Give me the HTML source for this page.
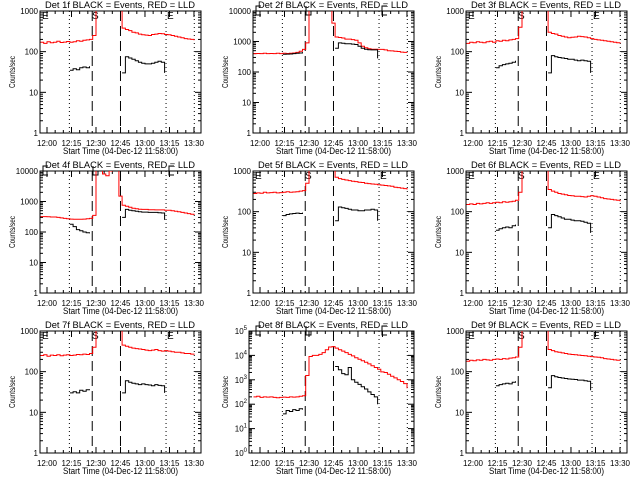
<!DOCTYPE html>
<html><head><meta charset="utf-8"><style>
html,body{margin:0;padding:0;background:#fff;}
svg{display:block;font-family:"Liberation Sans",sans-serif;}
</style></head><body>
<svg id="chart" width="640" height="480" viewBox="0 0 640 480"></svg>
<script>
// ---- data ----
const redTimes = []; for (let t = -4; t <= 90; t += 2) redTimes.push(t); // minutes after 12:00
const blackTimes1 = [14,16,18,20,22,24,26];
const blackTimes2 = [46,48,50,52,54,56,58,60,62,64,66,68,70,72];
const xTickLabels = ['12:00','12:15','12:30','12:45','13:00','13:15','13:30'];
const xTickMinutes = [0,15,30,45,60,75,90];
const panelTitles = ['Det 1f','Det 2f','Det 3f','Det 4f','Det 5f','Det 6f','Det 7f','Det 8f','Det 9f'];
const panelMaxDecade = [3,4,3,4,3,3,3,5,3];
const F=3000, G=15000;
const red1 = [170,160,175,165,170,180,168,172,178,170,175,185,180,190,195,200,250,F,F,F,F,F,F,F,F,380,350,330,300,290,270,260,255,250,265,270,280,275,265,260,250,240,230,220,210,205,200,190];
const red2 = [400,405,400,410,400,405,400,410,400,410,405,410,420,440,480,550,900,G,G,G,G,G,G,G,4000,1400,1350,1300,1200,1200,1150,1100,900,700,620,580,560,560,550,550,530,500,490,480,470,450,440,430];
const red3 = [160,170,165,175,170,165,175,180,170,185,180,190,185,195,200,210,400,F,F,F,F,F,F,F,F,300,280,270,250,240,230,220,225,230,240,235,230,220,210,200,195,190,185,180,175,170,165,160];
const red4 = [320,320,315,310,310,300,290,280,270,265,260,260,260,265,270,280,350,12000,12000,8000,7000,10000,12000,12000,1500,750,700,650,600,580,560,550,550,540,540,530,530,530,520,520,500,480,460,440,420,400,380,360];
const red5 = [280,290,285,300,290,295,300,290,295,300,310,300,305,310,320,330,500,F,F,F,F,F,F,F,F,700,650,620,600,580,560,550,530,520,500,490,480,470,460,450,440,430,420,400,390,380,370,350];
const red6 = [150,155,150,160,155,160,165,160,165,170,165,175,170,175,180,190,300,F,F,F,F,F,F,F,F,350,320,300,280,270,260,250,245,240,240,235,230,240,245,240,230,220,210,205,200,195,190,180];
const red7 = [250,260,240,255,250,260,245,255,260,250,255,265,260,270,265,280,400,F,F,F,F,F,F,F,F,450,420,400,380,370,360,350,340,330,340,350,330,320,330,320,310,300,300,290,280,280,270,260];
const red8 = [200,210,190,200,195,200,190,185,190,195,190,200,195,200,210,220,1500,9000,10000,10000,11000,13000,17000,22000,23000,20000,17000,15000,13000,11000,9500,8000,7000,6000,5200,4500,3800,3200,2700,2100,2000,1700,1400,1200,1000,850,700,450];
const red9 = [180,190,185,195,190,200,195,190,200,205,200,210,205,215,220,230,400,F,F,F,F,F,F,F,F,350,330,310,300,290,280,270,265,260,255,250,245,240,235,230,225,220,210,205,200,195,190,185];
const blackA1 = [35,38,36,40,42,40,44];           const blackB1 = [30,75,70,65,60,55,52,50,50,52,55,58,55,30];
const blackA2 = [380,385,390,400,410,420,450];    const blackB2 = [600,900,880,850,850,820,800,700,600,560,540,530,530,280];
const blackA3 = [40,45,48,50,52,55,60];           const blackB3 = [30,80,75,72,70,68,65,65,62,60,62,60,58,30];
const blackA4 = [180,150,120,110,100,95,90];      const blackB4 = [300,550,520,500,480,460,450,450,440,440,440,430,420,250];
const blackA5 = [80,85,88,90,92,90,95];           const blackB5 = [60,130,125,120,115,110,110,105,105,110,110,115,110,60];
const blackA6 = [35,38,40,42,40,45,48];           const blackB6 = [40,85,80,75,70,65,65,62,60,60,58,55,52,30];
const blackA7 = [30,32,30,35,33,36,35];           const blackB7 = [30,60,55,52,50,48,50,48,47,45,48,46,45,30];
const blackA8 = [40,55,50,60,55,65,60];           const blackB8 = [3500,2600,1800,1600,3200,1000,800,650,520,420,320,250,200,100];
const blackA9 = [45,48,50,52,50,55,58];           const blackB9 = [40,80,75,72,70,68,66,65,64,62,62,60,58,35];
const redSeries = [red1,red2,red3,red4,red5,red6,red7,red8,red9];
const blackSeg1 = [blackA1,blackA2,blackA3,blackA4,blackA5,blackA6,blackA7,blackA8,blackA9];
const blackSeg2 = [blackB1,blackB2,blackB3,blackB4,blackB5,blackB6,blackB7,blackB8,blackB9];
const dottedMinutes = [13.7,72.9,90.2];
const dashedMinutes = [27.7,45];

// ---- drawing ----
const NS='http://www.w3.org/2000/svg';
const svg=document.getElementById('chart');
function mk(tag,attrs,parent){const e=document.createElementNS(NS,tag);for(const k in attrs)e.setAttribute(k,attrs[k]);(parent||svg).appendChild(e);return e;}
const TOP=11,BOT=133,R=201;
function xOf(t){return 47+1.633*t;}
for(let p=0;p<9;p++){
  const ox=(p%3)*213, oy=Math.floor(p/3)*160;
  const L=(p===7)?36:40;
  const md=panelMaxDecade[p];
  const yOf=v=>BOT-(Math.log10(v)/md)*(BOT-TOP);
  const g=mk('g',{transform:`translate(${ox},${oy})`});
  
  
  const cid='clip'+p;
  const cp=mk('clipPath',{id:cid},g); mk('rect',{x:L,y:TOP,width:R-L,height:BOT-TOP},cp);
  const ti=mk('text',{x:45,y:8,'font-size':9,textLength:150,lengthAdjust:'spacingAndGlyphs'},g);
  ti.textContent=panelTitles[p]+' BLACK = Events, RED = LLD';
  
  
  const yt=mk('text',{x:0,y:0,'font-size':8,'text-anchor':'middle',transform:`translate(15,72) rotate(-90)`,textLength:32,lengthAdjust:'spacingAndGlyphs'},g);
  yt.textContent='Counts/sec';
  
  
  const xt=mk('text',{x:63,y:154,'font-size':9,textLength:115,lengthAdjust:'spacingAndGlyphs'},g);
  xt.textContent='Start Time (04-Dec-12 11:58:00)';
  
  
  const fr=mk('rect',{x:L,y:TOP,width:R-L,height:BOT-TOP,fill:'none',stroke:'#000','stroke-width':1},g);
  
  
  for(let d=0;d<=md;d++){
    const y=yOf(Math.pow(10,d));
    mk('line',{x1:L,x2:L+6,y1:y,y2:y,stroke:'#000'},g);
    mk('line',{x1:R-6,x2:R,y1:y,y2:y,stroke:'#000'},g);
    const lb=mk('text',{x:L-2,y:y+3,'font-size':8,'text-anchor':'end'},g);
    if(p===7){lb.textContent='10';const s=mk('tspan',{dy:-4,'font-size':6},lb);s.textContent=String(d);}
    else lb.textContent=String(Math.pow(10,d));
    
    
    if(d<md){for(let m=2;m<=9;m++){const ym=yOf(m*Math.pow(10,d));
      mk('line',{x1:L,x2:L+3,y1:ym,y2:ym,stroke:'#000'},g);
      mk('line',{x1:R-3,x2:R,y1:ym,y2:ym,stroke:'#000'},g);}}
  }
  for(let t=-5;t<=95;t+=5){const x=xOf(t);if(x<L||x>R)continue;const len=(t%15===0)?6:3;
    mk('line',{x1:x,x2:x,y1:BOT,y2:BOT-len,stroke:'#000'},g);
    mk('line',{x1:x,x2:x,y1:TOP,y2:TOP+len,stroke:'#000'},g);}
  xTickMinutes.forEach((t,i)=>{const lb=mk('text',{x:xOf(t),y:146,'font-size':8,'text-anchor':'middle'},g);
    lb.textContent=xTickLabels[i];
    
    });
  dottedMinutes.forEach(t=>{const l=mk('line',{x1:xOf(t),x2:xOf(t),y1:TOP,y2:BOT,stroke:'#000','stroke-dasharray':'1,3'},g);
    
    });
  dashedMinutes.forEach(t=>{const l=mk('line',{x1:xOf(t),x2:xOf(t),y1:TOP,y2:BOT,stroke:'#000','stroke-width':1,'stroke-dasharray':'10,5'},g);
    
    });
  if(md===3){
    [[42,'E'],[92,'S'],[167,'E']].forEach(([x,s])=>{const m=mk('text',{x:x,y:19,'font-size':10},g);m.textContent=s;
      
      });
  } else {
    [43,93,169].forEach((x,i)=>{const d=i===1?`M${x} 6V15H${x+5}V11H${x}`:`M${x+5} 6H${x}V15H${x+5}`;
      const m=mk('path',{d:d,fill:'none',stroke:'#000'},g);
      
      });
  }
  const step=(ts,vs)=>{let s='';ts.forEach((t,i)=>{const x=xOf(t),y=yOf(vs[i]);s+=(i?'L':'M')+x.toFixed(1)+' '+y.toFixed(1);
      if(i<ts.length-1)s+='L'+xOf(ts[i+1]).toFixed(1)+' '+y.toFixed(1);});return s;};
  const rp=mk('path',{d:step(redTimes,redSeries[p]),fill:'none',stroke:'#ff0000','stroke-width':1,'clip-path':`url(#${cid})`},g);
  
  
  const b1=mk('path',{d:step(blackTimes1,blackSeg1[p]),fill:'none',stroke:'#000','stroke-width':1,'clip-path':`url(#${cid})`},g);
  
  
  const b2=mk('path',{d:step(blackTimes2,blackSeg2[p]),fill:'none',stroke:'#000','stroke-width':1,'clip-path':`url(#${cid})`},g);
  
  
}
</script>
</body></html>
